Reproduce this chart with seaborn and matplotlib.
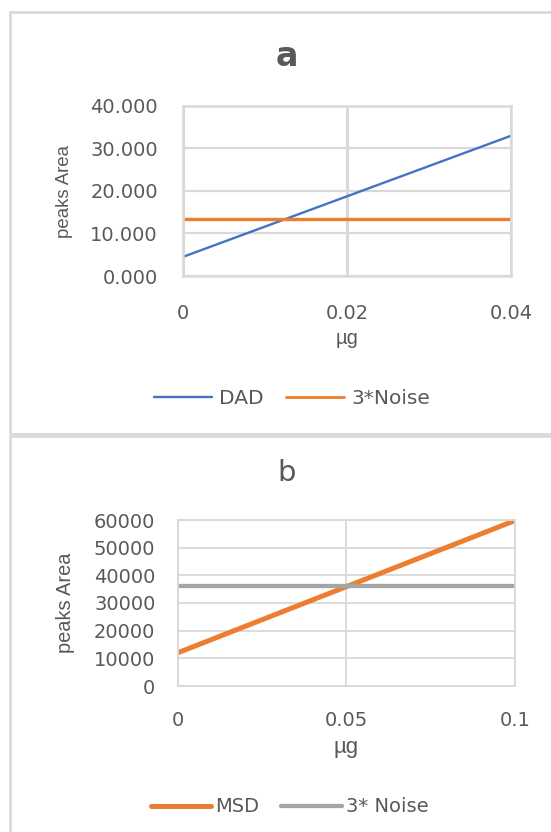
import matplotlib
matplotlib.use("Agg")
import matplotlib.pyplot as plt
from matplotlib.patches import Rectangle
from matplotlib.lines import Line2D
from matplotlib.ticker import FuncFormatter
import seaborn as sns
import pandas as pd

# ---- data: panel a (DAD detector) ----
dad_x = [0.0, 0.04]
dad_area = [4.5, 33.0]
dad_noise_x = [0.0, 0.04]
dad_noise = [13.4, 13.4]
a_xticks = [0, 0.02, 0.04]
a_xticklabels = ["0", "0.02", "0.04"]
a_yticks = [0, 10, 20, 30, 40]

# ---- data: panel b (MSD detector) ----
msd_x = [0.0, 0.1]
msd_area = [12000, 59800]
msd_noise_x = [0.0, 0.1]
msd_noise = [36000, 36000]
b_xticks = [0, 0.05, 0.1]
b_xticklabels = ["0", "0.05", "0.1"]
b_yticks = [0, 10000, 20000, 30000, 40000, 50000, 60000]

BLUE = "#4472C4"
ORANGE = "#ED7D31"
GRAY = "#A5A5A5"
GRID = "#D9D9D9"
TEXT = "#595959"

sns.set_theme(style="white")
plt.rcParams["font.family"] = ["DejaVu Sans"]
plt.rcParams["text.color"] = TEXT

W, H = 551, 832
fig = plt.figure(figsize=(W / 100, H / 100), dpi=100)
fig.patch.set_facecolor("white")


def px_axes(left, right, top, bottom):
    return fig.add_axes([left / W, 1 - bottom / H, (right - left) / W, (bottom - top) / H])


def frame(x0, y0, x1, y1):
    fig.patches.append(Rectangle((x0 / W, 1 - y1 / H), (x1 - x0) / W, (y1 - y0) / H,
                                 transform=fig.transFigure, fill=False,
                                 edgecolor=GRID, lw=1.9, zorder=0))


def style_axes(ax, grid_lw, spine_lw, xpad, ypad, tick_size):
    ax.set_facecolor("white")
    ax.grid(True, color=GRID, linewidth=grid_lw)
    ax.set_axisbelow(True)
    for s in ax.spines.values():
        s.set_visible(True)
        s.set_color(GRID)
        s.set_linewidth(spine_lw)
    ax.tick_params(length=0, labelsize=tick_size, labelcolor=TEXT)
    ax.tick_params(axis="x", pad=xpad)
    ax.tick_params(axis="y", pad=ypad)
    ax.margins(0)


# outer chart borders
frame(10, 12, 570, 434)
frame(10, 436, 570, 850)

# ---------------- panel a ----------------
ax1 = px_axes(183, 511, 106, 276)
df_a = pd.DataFrame({"x": dad_x, "y": dad_area})
df_an = pd.DataFrame({"x": dad_noise_x, "y": dad_noise})
sns.lineplot(data=df_a, x="x", y="y", ax=ax1, color=BLUE, lw=1.7)
sns.lineplot(data=df_an, x="x", y="y", ax=ax1, color=ORANGE, lw=2.4)
ax1.set_xlim(0, 0.04)
ax1.set_ylim(0, 40)
ax1.set_xticks(a_xticks)
ax1.set_xticklabels(a_xticklabels)
ax1.set_yticks(a_yticks)
ax1.yaxis.set_major_formatter(FuncFormatter(lambda v, p: f"{v:.3f}"))
style_axes(ax1, 1.6, 1.8, 20, 18, 14)
for gl in ax1.xaxis.get_gridlines():
    gl.set_linewidth(2.2)
ax1.set_xlabel("µg", fontsize=14.5, color=TEXT, family="Liberation Sans")
ax1.set_ylabel("peaks Area", fontsize=13.4, color=TEXT, family="Liberation Sans")
ax1.xaxis.set_label_coords(0.5, -0.37)
ax1.xaxis.label.set_va("center")
ax1.yaxis.set_label_coords(-0.36, 0.5)
ax1.yaxis.label.set_va("center")

fig.text(287 / W, 1 - 57 / H, "a", fontsize=24, fontweight="bold", color=TEXT,
         ha="center", va="center")

leg_a = [Line2D([], [], color=BLUE, lw=1.7), Line2D([], [], color=ORANGE, lw=2.0)]
fig.legend(leg_a, ["DAD", "3*Noise"], loc="center", bbox_to_anchor=(292 / W, 1 - 399 / H),
           ncol=2, frameon=False, fontsize=14.5, handlelength=2.9, handletextpad=0.36,
           columnspacing=1.1, labelcolor=TEXT)

# ---------------- panel b ----------------
ax2 = px_axes(177.7, 515, 520, 686)
df_b = pd.DataFrame({"x": msd_x, "y": msd_area})
df_bn = pd.DataFrame({"x": msd_noise_x, "y": msd_noise})
sns.lineplot(data=df_b, x="x", y="y", ax=ax2, color=ORANGE, lw=3.6)
sns.lineplot(data=df_bn, x="x", y="y", ax=ax2, color=GRAY, lw=3.1)
ax2.set_xlim(0, 0.1)
ax2.set_ylim(0, 60000)
ax2.set_xticks(b_xticks)
ax2.set_xticklabels(b_xticklabels)
ax2.set_yticks(b_yticks)
ax2.yaxis.set_major_formatter(FuncFormatter(lambda v, p: f"{v:.0f}"))
style_axes(ax2, 1.3, 1.4, 18, 16, 14)
ax2.set_xlabel("µg", fontsize=16, color=TEXT, family="Liberation Sans")
ax2.set_ylabel("peaks Area", fontsize=14.4, color=TEXT, family="Liberation Sans")
ax2.xaxis.set_label_coords(0.5, -0.373)
ax2.xaxis.label.set_va("center")
ax2.yaxis.set_label_coords(-0.334, 0.5)
ax2.yaxis.label.set_va("center")

fig.text(287 / W, 1 - 473 / H, "b", fontsize=21, color=TEXT, ha="center", va="center")

leg_b = [Line2D([], [], color=ORANGE, lw=3.6, solid_capstyle="round"),
         Line2D([], [], color=GRAY, lw=3.1, solid_capstyle="round")]
fig.legend(leg_b, ["MSD", "3* Noise"], loc="center", bbox_to_anchor=(289.5 / W, 1 - 807 / H),
           ncol=2, frameon=False, fontsize=14, handlelength=3.1, handletextpad=0.2,
           columnspacing=1.15, labelcolor=TEXT)

fig.savefig("out.png", dpi=100, facecolor="white")
